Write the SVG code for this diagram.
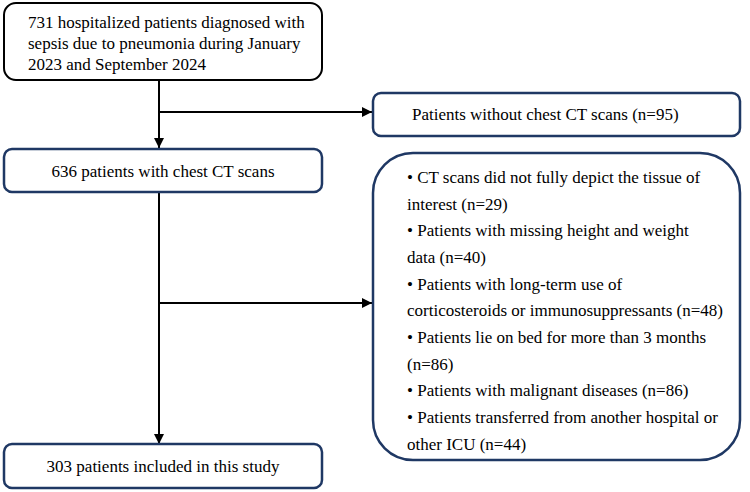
<svg xmlns="http://www.w3.org/2000/svg" width="750" height="492" viewBox="0 0 750 492">
<defs>
<marker id="ah" viewBox="0 0 10 10" refX="10" refY="5" markerWidth="10" markerHeight="10" markerUnits="userSpaceOnUse" orient="auto">
<path d="M0,0 L10,5 L0,10 Z" fill="#000"/>
</marker>
</defs>
<style>
text{font-family:"Liberation Serif","Times New Roman",serif;font-size:17px;fill:#000}
.blk{fill:#fff;stroke:#000;stroke-width:2}
.nv{fill:#fff;stroke:#1f3864;stroke-width:2.5}
.ln{fill:none;stroke:#000;stroke-width:2}
</style>
<rect width="750" height="492" fill="#fff"/>
<g id="connectors">
<line class="ln" x1="159" y1="80" x2="159" y2="148" marker-end="url(#ah)"/>
<line class="ln" x1="159" y1="112" x2="372" y2="112" marker-end="url(#ah)"/>
<line class="ln" x1="159" y1="192" x2="159" y2="444" marker-end="url(#ah)"/>
<line class="ln" x1="159" y1="303" x2="372" y2="303" marker-end="url(#ah)"/>
</g>
<g id="n1">
<rect class="blk" x="4" y="3" width="318" height="77" rx="12"/>
<text x="28" y="28">731 hospitalized patients diagnosed with</text>
<text x="28" y="49">sepsis due to pneumonia during January</text>
<text x="28" y="70">2023 and September 2024</text>
</g>
<g id="n2">
<rect class="nv" x="373" y="93" width="367" height="43" rx="8"/>
<text x="412" y="120">Patients without chest CT scans (n=95)</text>
</g>
<g id="n3">
<rect class="nv" x="4" y="149" width="318" height="43" rx="8"/>
<text x="163" y="177" text-anchor="middle">636 patients with chest CT scans</text>
</g>
<g id="n4">
<rect class="nv" x="373" y="153" width="367" height="307" rx="40"/>
<text x="407" y="183">• CT scans did not fully depict the tissue of</text>
<text x="407" y="209.7">interest (n=29)</text>
<text x="407" y="236.3">• Patients with missing height and weight</text>
<text x="407" y="263">data (n=40)</text>
<text x="407" y="289.7">• Patients with long-term use of</text>
<text x="407" y="316.3">corticosteroids or immunosuppressants (n=48)</text>
<text x="407" y="343">• Patients lie on bed for more than 3 months</text>
<text x="407" y="369.7">(n=86)</text>
<text x="407" y="396.3">• Patients with malignant diseases (n=86)</text>
<text x="407" y="423">• Patients transferred from another hospital or</text>
<text x="407" y="449.7">other ICU (n=44)</text>
</g>
<g id="n5">
<rect class="nv" x="4" y="444" width="318" height="44" rx="8"/>
<text x="163" y="472" text-anchor="middle">303 patients included in this study</text>
</g>
</svg>
